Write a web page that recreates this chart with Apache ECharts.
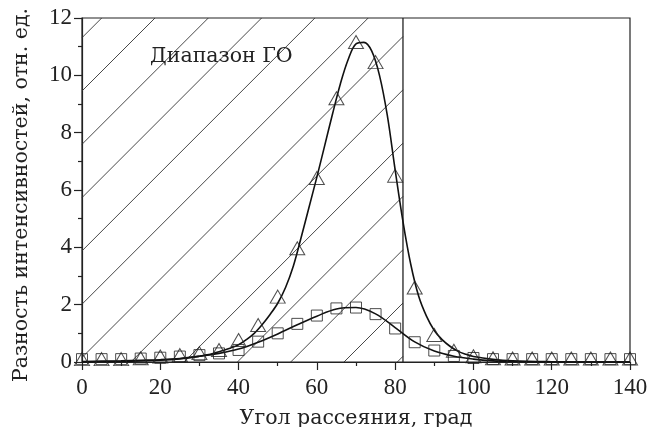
<!DOCTYPE html>
<html><head><meta charset="utf-8">
<script src="https://cdn.jsdelivr.net/npm/echarts@6/dist/echarts.min.js"></script>
<style>html,body{margin:0;padding:0;background:#fff}#c{width:648px;height:427px}</style>
</head><body><div id="c"></div>
<script>
// Measured points (scattering angle, deg)
const anglesPts = [0,5,10,15,20,25,30,35,40,45,50,55,60,65,70,75,80,85,90,95,100,105,110,115,120,125,130,135,140];
const triValues = [0.1,0.1,0.1,0.13,0.19,0.24,0.31,0.42,0.77,1.29,2.28,3.97,6.42,9.2,11.16,10.46,6.5,2.6,0.94,0.39,0.2,0.13,0.12,0.12,0.12,0.12,0.12,0.12,0.12];
const sqValues  = [0.1,0.1,0.1,0.12,0.15,0.19,0.24,0.3,0.42,0.71,1.0,1.33,1.62,1.87,1.9,1.67,1.17,0.69,0.4,0.21,0.14,0.1,0.1,0.1,0.1,0.1,0.1,0.1,0.1];
// Fitted curves
const curveAx = [0,5,10,15,20,25,30,32,34,36,38,40,42,44,46,48,50,52,54,56,58,60,62,64,66,68,70,72,74,76,78,80,82,84,86,88,90,92,94,96,98,100,105,110,120,130,140];
const curveAy = [0,0.01,0.02,0.04,0.06,0.11,0.2,0.25,0.32,0.4,0.49,0.6,0.78,1.0,1.3,1.65,2.05,2.6,3.35,4.35,5.4,6.45,7.55,8.65,9.7,10.55,11.1,11.15,10.85,10.0,8.6,6.7,4.9,3.4,2.3,1.6,1.1,0.78,0.55,0.38,0.27,0.19,0.09,0.04,0.01,0,0];
const curveBx = [0,5,10,15,20,25,30,35,40,45,50,55,60,65,70,75,80,85,90,95,100,105,110,115,120,130,140];
const curveBy = [0.02,0.03,0.04,0.06,0.08,0.12,0.2,0.3,0.45,0.69,0.98,1.3,1.6,1.85,1.9,1.68,1.2,0.7,0.38,0.2,0.1,0.04,0.015,0.005,0,0,0];
// Geometric optics range
const goRange = [0, 82];
const goLabel = 'Диапазон ГО';
const xTitle = 'Угол рассеяния, град';
const yTitle = 'Разность интенсивностей, отн. ед.';

const zip = (a,b) => a.map((v,i)=>[v,b[i]]);
const serif = '"Liberation Serif", serif';
const wide = '"DejaVu Serif", serif';
const ink = '#222';

const chart = echarts.init(document.getElementById('c'), null, {renderer:'canvas'});
chart.setOption({
  backgroundColor:'#fff',
  animation:false,
  grid:{left:82,right:18,top:18,bottom:65,containLabel:false,outerBoundsMode:'none',
    show:true,borderColor:ink,borderWidth:1.2,backgroundColor:'transparent'},
  xAxis:{type:'value',min:0,max:140,interval:20,
    name:xTitle,nameLocation:'middle',nameGap:46,
    nameTextStyle:{fontFamily:wide,fontSize:20.5,color:ink},
    axisLine:{lineStyle:{color:ink,width:1.2}},
    axisTick:{show:true,inside:false,length:8,lineStyle:{color:ink,width:1.2}},
    minorTick:{show:true,splitNumber:2,length:4,lineStyle:{color:ink,width:1.2}},
    splitLine:{show:false},
    axisLabel:{fontFamily:serif,fontSize:23,color:ink,margin:14}},
  yAxis:{type:'value',min:0,max:12,interval:2,
    name:yTitle,nameLocation:'middle',nameGap:50,nameRotate:90,
    nameTextStyle:{fontFamily:wide,fontSize:20.5,color:ink,padding:[0,10,0,0]},
    axisLine:{lineStyle:{color:ink,width:1.2}},
    axisTick:{show:true,inside:false,length:8,lineStyle:{color:ink,width:1.2}},
    minorTick:{show:true,splitNumber:2,length:4,lineStyle:{color:ink,width:1.2}},
    splitLine:{show:false},
    axisLabel:{fontFamily:serif,fontSize:23,color:ink,margin:10}},
  series:[
    {type:'custom',silent:true,z:1,clip:false,
     data:[[goRange[0],goRange[1]]],
     renderItem:function(params,api){
       const p0 = api.coord([api.value(0),0]);
       const p1 = api.coord([api.value(1),12]);
       const x0=p0[0], yb=p0[1], x1=p1[0], yt=p1[1];
       const spacing=53.3, off=4.5;
       const children=[];
       for(let k=-10;k<20;k++){
         const yk = yb - off - k*spacing;
         const lo = Math.max(0, yk - yb), hi = Math.min(x1-x0, yk - yt);
         if(hi>lo){
           children.push({type:'line',shape:{x1:x0+lo,y1:yk-lo,x2:x0+hi,y2:yk-hi},
             style:{stroke:'#333',lineWidth:0.9}});
         }
       }
       children.push({type:'line',shape:{x1:x1,y1:yb,x2:x1,y2:yt},style:{stroke:ink,lineWidth:1.3}});
       const lp = api.coord([17.4,10.65]);
       children.push({type:'text',style:{text:goLabel,x:lp[0],y:lp[1],fill:ink,
         font:'20.5px "DejaVu Serif", serif',textAlign:'left',textVerticalAlign:'middle'}});
       return {type:'group',children:children};
     }},
    {type:'line',data:zip(curveAx,curveAy),smooth:0.35,showSymbol:false,z:3,
     lineStyle:{color:'#111',width:1.6}},
    {type:'line',data:zip(curveBx,curveBy),smooth:0.35,showSymbol:false,z:3,
     lineStyle:{color:'#111',width:1.6}},
    {type:'scatter',data:zip(anglesPts,triValues),symbol:'triangle',symbolSize:[15,13],z:4,
     itemStyle:{color:'rgba(255,255,255,0)',borderColor:'#222',borderWidth:1}},
    {type:'scatter',data:zip(anglesPts,sqValues),symbol:'rect',symbolSize:11,z:4,
     itemStyle:{color:'rgba(255,255,255,0)',borderColor:'#222',borderWidth:1}}
  ]
});
</script></body></html>
